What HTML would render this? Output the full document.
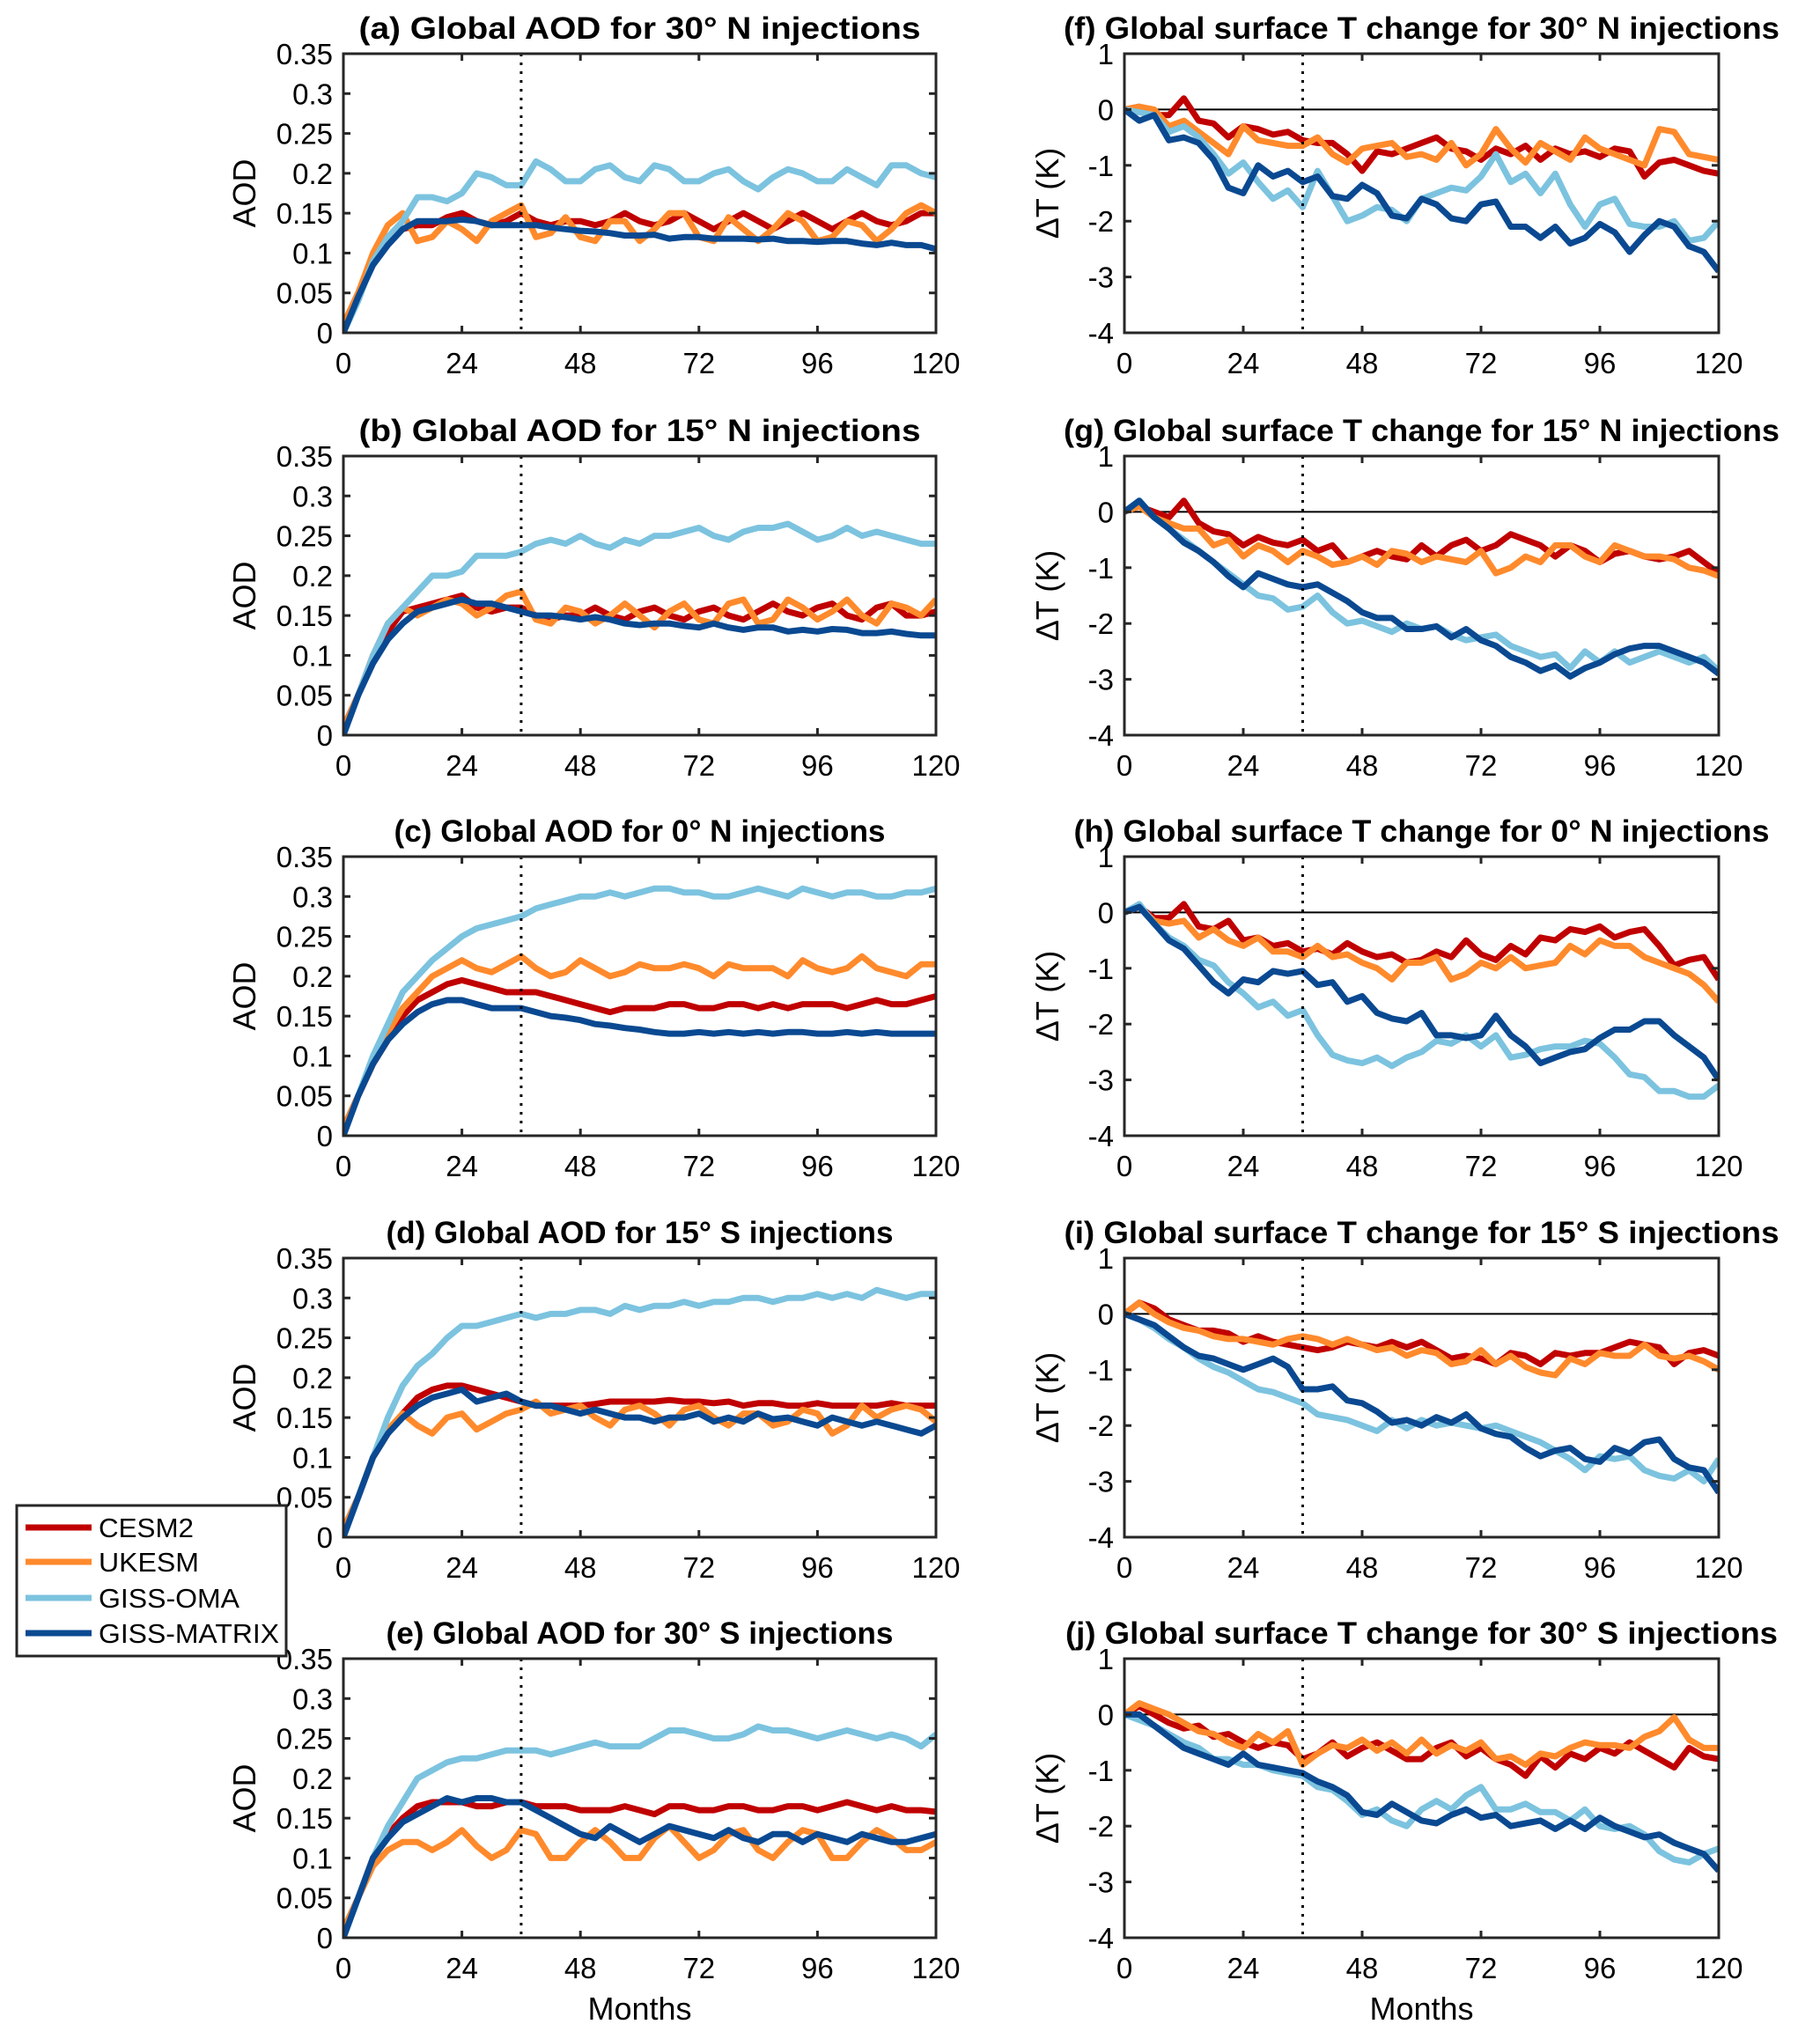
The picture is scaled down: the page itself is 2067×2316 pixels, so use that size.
<!DOCTYPE html>
<html><head><meta charset="utf-8"><style>
html,body{margin:0;padding:0;background:#fff}
svg{display:block}
text{font-family:"Liberation Sans",sans-serif;fill:#000}
</style></head><body>
<svg id="fig" width="2067" height="2316" viewBox="0 0 2067 2316" xmlns="http://www.w3.org/2000/svg"></svg>
<script>
// months sampled every 3 months: 0..120
const sampleStep = 3;
const seriesNames = ["CESM2","UKESM","GISS-OMA","GISS-MATRIX"];
const aodTicks = [0,0.05,0.1,0.15,0.2,0.25,0.3,0.35];
const aodTickLabels = ["0","0.05","0.1","0.15","0.2","0.25","0.3","0.35"];
const tTicks = [-4,-3,-2,-1,0,1];
const tTickLabels = ["-4","-3","-2","-1","0","1"];
const monthTicks = [0,24,48,72,96,120];
const monthTickLabels = ["0","24","48","72","96","120"];
const spinupMonth = 36;

// (a) AOD 30N
const aCesm=[0.01,0.05,0.09,0.12,0.13,0.135,0.135,0.145,0.15,0.14, 0.135,0.14,0.15,0.14,0.135,0.14,0.14,0.135,0.14,0.15, 0.14,0.135,0.14,0.15,0.14,0.13,0.14,0.15,0.14,0.13, 0.14,0.15,0.14,0.13,0.14,0.15,0.14,0.135,0.14,0.15, 0.15];
const aUk=[0.01,0.05,0.1,0.135,0.15,0.115,0.12,0.14,0.13,0.115, 0.14,0.15,0.16,0.12,0.125,0.145,0.12,0.115,0.14,0.14, 0.115,0.13,0.15,0.15,0.12,0.115,0.145,0.13,0.115,0.13, 0.15,0.14,0.115,0.12,0.14,0.135,0.115,0.13,0.15,0.16, 0.15];
const aOma=[0.0,0.04,0.09,0.12,0.14,0.17,0.17,0.165,0.175,0.2, 0.195,0.185,0.185,0.215,0.205,0.19,0.19,0.205,0.21,0.195, 0.19,0.21,0.205,0.19,0.19,0.2,0.205,0.19,0.18,0.195, 0.205,0.2,0.19,0.19,0.205,0.195,0.185,0.21,0.21,0.2, 0.195];
const aMat=[0.0,0.045,0.085,0.11,0.13,0.14,0.14,0.14,0.142,0.14, 0.135,0.135,0.135,0.135,0.132,0.13,0.128,0.127,0.125,0.122, 0.122,0.123,0.118,0.12,0.12,0.118,0.118,0.118,0.117,0.118, 0.115,0.115,0.114,0.115,0.115,0.112,0.11,0.113,0.11,0.11, 0.105];
// (f) dT 30N
const fCesm=[0,0.05,-0.1,-0.1,0.2,-0.2,-0.25,-0.5,-0.3,-0.35, -0.45,-0.4,-0.55,-0.6,-0.6,-0.8,-1.1,-0.75,-0.8,-0.7, -0.6,-0.5,-0.7,-0.75,-0.9,-0.7,-0.8,-0.65,-0.9,-0.7, -0.8,-0.75,-0.85,-0.7,-0.75,-1.2,-0.95,-0.9,-1.0,-1.1, -1.15];
const fUk=[0,0.05,0,-0.3,-0.2,-0.4,-0.6,-0.8,-0.3,-0.55, -0.6,-0.65,-0.65,-0.5,-0.8,-0.95,-0.7,-0.65,-0.6,-0.85, -0.8,-0.9,-0.6,-1.0,-0.8,-0.35,-0.7,-0.95,-0.6,-0.75, -0.9,-0.5,-0.7,-0.8,-0.9,-1.0,-0.35,-0.4,-0.8,-0.85, -0.9];
const fOma=[0,-0.05,-0.1,-0.4,-0.3,-0.5,-0.8,-1.15,-0.95,-1.3, -1.6,-1.45,-1.75,-1.1,-1.55,-2.0,-1.9,-1.75,-1.8,-2.0, -1.6,-1.5,-1.4,-1.45,-1.2,-0.8,-1.3,-1.15,-1.5,-1.15, -1.7,-2.1,-1.7,-1.6,-2.05,-2.1,-2.1,-2.0,-2.35,-2.3, -2.0];
const fMat=[0,-0.2,-0.1,-0.55,-0.5,-0.6,-0.9,-1.4,-1.5,-1.0, -1.2,-1.1,-1.3,-1.2,-1.55,-1.6,-1.35,-1.5,-1.9,-1.95, -1.6,-1.7,-1.95,-2.0,-1.7,-1.65,-2.1,-2.1,-2.3,-2.1, -2.4,-2.3,-2.05,-2.2,-2.55,-2.25,-2.0,-2.1,-2.45,-2.55, -2.9];
// (b) AOD 15N
const bCesm=[.01,.05,.1,.13,.155,.16,.165,.17,.175,.16, .155,.16,.16,.15,.145,.15,.15,.16,.15,.145, .155,.16,.15,.145,.155,.16,.15,.145,.155,.165, .155,.15,.16,.165,.15,.145,.16,.165,.15,.15, .155];
const bUk=[.01,.05,.1,.14,.16,.15,.16,.17,.165,.15, .16,.175,.18,.145,.14,.16,.155,.14,.15,.165, .15,.135,.155,.165,.145,.14,.165,.17,.14,.145, .17,.16,.145,.155,.17,.15,.14,.165,.16,.15, .17];
const bOma=[.0,.05,.1,.14,.16,.18,.2,.2,.205,.225, .225,.225,.23,.24,.245,.24,.25,.24,.235,.245, .24,.25,.25,.255,.26,.25,.245,.255,.26,.26, .265,.255,.245,.25,.26,.25,.255,.25,.245,.24, .24];
const bMat=[.0,.05,.09,.12,.14,.155,.16,.165,.17,.165, .165,.16,.155,.15,.15,.148,.145,.148,.145,.14, .138,.14,.14,.137,.135,.14,.135,.132,.135,.135, .13,.132,.13,.133,.132,.128,.128,.13,.127,.125, .125];
// (g) dT 15N
const gCesm=[0,0.1,0,-0.1,0.2,-0.2,-0.35,-0.4,-0.6,-0.45, -0.55,-0.6,-0.5,-0.7,-0.6,-0.9,-0.8,-0.7,-0.8,-0.85, -0.6,-0.8,-0.6,-0.5,-0.7,-0.6,-0.4,-0.5,-0.6,-0.8, -0.6,-0.7,-0.9,-0.75,-0.7,-0.8,-0.85,-0.8,-0.7,-0.9, -1.1];
const gUk=[0,0.1,-0.1,-0.2,-0.3,-0.3,-0.6,-0.5,-0.8,-0.6, -0.7,-0.9,-0.7,-0.8,-0.95,-0.9,-0.8,-0.95,-0.7,-0.75, -0.9,-0.8,-0.85,-0.9,-0.7,-1.1,-1.0,-0.8,-0.9,-0.6, -0.6,-0.8,-0.9,-0.6,-0.7,-0.8,-0.8,-0.85,-1.0,-1.05, -1.15];
const gOma=[0,0.2,-0.1,-0.3,-0.5,-0.7,-0.9,-1.1,-1.3,-1.5, -1.55,-1.75,-1.7,-1.5,-1.8,-2.0,-1.95,-2.05,-2.15,-2.0, -2.1,-2.05,-2.2,-2.3,-2.25,-2.2,-2.4,-2.5,-2.6,-2.55, -2.8,-2.5,-2.7,-2.5,-2.7,-2.6,-2.5,-2.6,-2.7,-2.6, -2.85];
const gMat=[0,0.2,-0.1,-0.3,-0.55,-0.7,-0.9,-1.15,-1.35,-1.1, -1.2,-1.3,-1.35,-1.3,-1.45,-1.6,-1.8,-1.9,-1.9,-2.1, -2.1,-2.05,-2.25,-2.1,-2.3,-2.4,-2.6,-2.7,-2.85,-2.75, -2.95,-2.8,-2.7,-2.55,-2.45,-2.4,-2.4,-2.5,-2.6,-2.7, -2.9];
// (c) AOD 0N
const cCesm=[.01,.05,.09,.12,.15,.17,.18,.19,.195,.19, .185,.18,.18,.18,.175,.17,.165,.16,.155,.16, .16,.16,.165,.165,.16,.16,.165,.165,.16,.165, .16,.165,.165,.165,.16,.165,.17,.165,.165,.17, .175];
const cUk=[.01,.05,.09,.13,.16,.18,.2,.21,.22,.21, .205,.215,.225,.21,.2,.205,.22,.21,.2,.205, .215,.21,.21,.215,.21,.2,.215,.21,.21,.21, .2,.22,.21,.205,.21,.225,.21,.205,.2,.215, .215];
const cOma=[.0,.05,.1,.14,.18,.2,.22,.235,.25,.26, .265,.27,.275,.285,.29,.295,.3,.3,.305,.3, .305,.31,.31,.305,.305,.3,.3,.305,.31,.305, .3,.31,.305,.3,.305,.305,.3,.3,.305,.305, .31];
const cMat=[.0,.05,.09,.12,.14,.155,.165,.17,.17,.165, .16,.16,.16,.155,.15,.148,.145,.14,.138,.135, .133,.13,.128,.128,.13,.128,.13,.128,.13,.128, .13,.13,.128,.128,.13,.128,.13,.128,.128,.128, .128];
// (h) dT 0N
const hCesm=[0,0.1,-0.1,-0.1,0.15,-0.25,-0.3,-0.15,-0.5,-0.45, -0.6,-0.55,-0.7,-0.65,-0.75,-0.55,-0.7,-0.8,-0.75,-0.9, -0.85,-0.7,-0.8,-0.5,-0.75,-0.85,-0.6,-0.75,-0.45,-0.5, -0.3,-0.35,-0.25,-0.45,-0.35,-0.3,-0.6,-0.95,-0.85,-0.8, -1.2];
const hUk=[0,0.1,-0.15,-0.2,-0.15,-0.45,-0.3,-0.5,-0.6,-0.45, -0.7,-0.7,-0.8,-0.6,-0.8,-0.75,-0.9,-1.0,-1.2,-0.9, -0.9,-0.8,-1.2,-1.1,-0.9,-1.0,-0.8,-1.0,-0.95,-0.9, -0.6,-0.75,-0.5,-0.6,-0.6,-0.8,-0.9,-1.0,-1.1,-1.3, -1.6];
const hOma=[0,0.15,-0.2,-0.45,-0.6,-0.85,-0.95,-1.25,-1.45,-1.7, -1.6,-1.85,-1.75,-2.2,-2.55,-2.65,-2.7,-2.6,-2.75,-2.6, -2.5,-2.3,-2.35,-2.2,-2.4,-2.2,-2.6,-2.55,-2.45,-2.4, -2.4,-2.3,-2.35,-2.6,-2.9,-2.95,-3.2,-3.2,-3.3,-3.3, -3.1];
const hMat=[0,0.1,-0.2,-0.5,-0.65,-0.95,-1.25,-1.45,-1.2,-1.25, -1.05,-1.1,-1.05,-1.3,-1.25,-1.6,-1.5,-1.8,-1.9,-1.95, -1.8,-2.2,-2.2,-2.25,-2.2,-1.85,-2.2,-2.4,-2.7,-2.6, -2.5,-2.45,-2.25,-2.1,-2.1,-1.95,-1.95,-2.2,-2.4,-2.6, -3.0];
// (d) AOD 15S
const dCesm=[.01,.05,.1,.13,.155,.175,.185,.19,.19,.185, .18,.175,.17,.165,.165,.165,.165,.167,.17,.17, .17,.17,.172,.17,.17,.168,.17,.165,.168,.168, .165,.165,.168,.165,.165,.165,.165,.168,.165,.165, .165];
const dUk=[.01,.05,.1,.135,.155,.14,.13,.15,.155,.135, .145,.155,.16,.17,.155,.16,.165,.15,.14,.16, .165,.155,.14,.16,.165,.15,.14,.155,.155,.14, .145,.16,.155,.13,.14,.165,.15,.16,.165,.16, .145];
const dOma=[.0,.05,.1,.15,.19,.215,.23,.25,.265,.265, .27,.275,.28,.275,.28,.28,.285,.285,.28,.29, .285,.29,.29,.295,.29,.295,.295,.3,.3,.295, .3,.3,.305,.3,.305,.3,.31,.305,.3,.305, .305];
const dMat=[.0,.05,.1,.13,.15,.165,.175,.18,.185,.17, .175,.18,.17,.165,.165,.16,.155,.16,.155,.15, .15,.145,.15,.15,.155,.145,.15,.145,.155,.148, .15,.145,.14,.15,.145,.14,.145,.14,.135,.13, .14];
// (i) dT 15S
const iCesm=[0,0.2,0.1,-0.1,-0.2,-0.3,-0.3,-0.35,-0.5,-0.4, -0.5,-0.55,-0.6,-0.65,-0.6,-0.5,-0.55,-0.6,-0.5,-0.6, -0.5,-0.65,-0.8,-0.75,-0.8,-0.9,-0.7,-0.75,-0.9,-0.7, -0.75,-0.7,-0.7,-0.6,-0.5,-0.55,-0.6,-0.9,-0.7,-0.65, -0.75];
const iUk=[0,0.2,0,-0.15,-0.25,-0.3,-0.4,-0.45,-0.45,-0.5, -0.55,-0.45,-0.4,-0.45,-0.55,-0.45,-0.55,-0.65,-0.6,-0.75, -0.65,-0.7,-0.9,-0.85,-0.65,-0.9,-0.75,-0.95,-1.05,-1.1, -0.8,-0.9,-0.7,-0.75,-0.75,-0.55,-0.75,-0.8,-0.75,-0.85, -1.0];
const iOma=[0,-0.1,-0.25,-0.45,-0.6,-0.8,-0.95,-1.05,-1.2,-1.35, -1.4,-1.5,-1.6,-1.8,-1.85,-1.9,-2.0,-2.1,-1.9,-2.05, -1.9,-2.0,-1.95,-2.0,-2.05,-2.0,-2.1,-2.2,-2.3,-2.45, -2.6,-2.8,-2.55,-2.6,-2.55,-2.8,-2.9,-2.95,-2.8,-3.0, -2.6];
const iMat=[0,-0.1,-0.2,-0.4,-0.6,-0.75,-0.8,-0.9,-1.0,-0.9, -0.8,-0.95,-1.35,-1.35,-1.3,-1.55,-1.6,-1.75,-1.95,-1.9, -2.0,-1.85,-1.95,-1.8,-2.05,-2.15,-2.2,-2.4,-2.55,-2.45, -2.4,-2.6,-2.65,-2.4,-2.5,-2.3,-2.25,-2.6,-2.75,-2.8, -3.2];
// (e) AOD 30S
const eCesm=[.01,.05,.1,.13,.15,.165,.17,.17,.17,.165, .165,.17,.17,.165,.165,.165,.16,.16,.16,.165, .16,.155,.165,.165,.16,.16,.165,.165,.16,.16, .165,.165,.16,.165,.17,.165,.16,.165,.16,.16, .158];
const eUk=[.01,.05,.09,.11,.12,.12,.11,.12,.135,.115, .1,.11,.135,.13,.1,.1,.12,.135,.12,.1, .1,.125,.14,.12,.1,.11,.13,.135,.11,.1, .12,.135,.13,.1,.1,.12,.135,.125,.11,.11, .12];
const eOma=[.0,.05,.1,.14,.17,.2,.21,.22,.225,.225, .23,.235,.235,.235,.23,.235,.24,.245,.24,.24, .24,.25,.26,.26,.255,.25,.25,.255,.265,.26, .26,.255,.25,.255,.26,.255,.25,.255,.25,.24, .255];
const eMat=[.0,.05,.1,.125,.145,.155,.165,.175,.17,.175, .175,.17,.17,.16,.15,.14,.13,.125,.14,.13, .12,.13,.14,.135,.13,.125,.135,.125,.12,.13, .13,.12,.13,.125,.12,.13,.125,.12,.12,.125, .13];
// (j) dT 30S
const jCesm=[0,0.15,0,-0.15,-0.25,-0.2,-0.4,-0.35,-0.5,-0.6, -0.5,-0.55,-0.8,-0.7,-0.5,-0.75,-0.6,-0.5,-0.65,-0.8, -0.8,-0.6,-0.5,-0.75,-0.6,-0.8,-0.9,-1.1,-0.75,-0.95, -0.7,-0.8,-0.6,-0.7,-0.5,-0.65,-0.8,-0.95,-0.6,-0.75, -0.8];
const jUk=[0,0.2,0.1,0,-0.15,-0.3,-0.35,-0.5,-0.6,-0.35, -0.5,-0.3,-0.9,-0.7,-0.55,-0.6,-0.45,-0.65,-0.5,-0.7, -0.45,-0.7,-0.55,-0.65,-0.5,-0.8,-0.75,-0.9,-0.7,-0.75, -0.6,-0.5,-0.55,-0.55,-0.6,-0.4,-0.3,-0.05,-0.45,-0.6, -0.6];
const jOma=[0,-0.1,-0.2,-0.35,-0.5,-0.6,-0.8,-0.8,-0.9,-0.9, -1.0,-1.05,-1.1,-1.3,-1.35,-1.55,-1.8,-1.7,-1.9,-2.0, -1.7,-1.55,-1.7,-1.45,-1.3,-1.7,-1.7,-1.6,-1.75,-1.75, -1.9,-1.7,-2.0,-2.05,-2.0,-2.15,-2.45,-2.6,-2.65,-2.5, -2.4];
const jMat=[0,0,-0.2,-0.4,-0.6,-0.7,-0.8,-0.9,-0.7,-0.9, -0.95,-1.0,-1.05,-1.2,-1.3,-1.45,-1.75,-1.8,-1.6,-1.75, -1.9,-1.95,-1.8,-1.7,-1.85,-1.8,-2.0,-1.95,-1.9,-2.05, -1.9,-2.05,-1.85,-2.0,-2.1,-2.2,-2.15,-2.3,-2.4,-2.5, -2.8];

const colors=["#c00000","#ff8a2c","#7cc3df","#0a4991"];
const NS="http://www.w3.org/2000/svg";
const svg=document.getElementById('fig');
function mk(tag,attrs,parent){const e=document.createElementNS(NS,tag);for(const k in attrs)e.setAttribute(k,attrs[k]);(parent||svg).appendChild(e);return e;}

const rowTops=[61,518,973,1429,1884];
const axH=317;
const leftX=[390,1063], rightX=[1277,1952];
const panels=[
 {id:'a',col:0,row:0,title:"(a) Global AOD for 30° N injections",tw:638,s:[aCesm,aUk,aOma,aMat]},
 {id:'b',col:0,row:1,title:"(b) Global AOD for 15° N injections",tw:638,s:[bCesm,bUk,bOma,bMat]},
 {id:'c',col:0,row:2,title:"(c) Global AOD for 0° N injections",tw:558,s:[cCesm,cUk,cOma,cMat]},
 {id:'d',col:0,row:3,title:"(d) Global AOD for 15° S injections",tw:576,s:[dCesm,dUk,dOma,dMat]},
 {id:'e',col:0,row:4,title:"(e) Global AOD for 30° S injections",tw:576,s:[eCesm,eUk,eOma,eMat]},
 {id:'f',col:1,row:0,title:"(f) Global surface T change for 30° N injections",tw:813,s:[fCesm,fUk,fOma,fMat]},
 {id:'g',col:1,row:1,title:"(g) Global surface T change for 15° N injections",tw:813,s:[gCesm,gUk,gOma,gMat]},
 {id:'h',col:1,row:2,title:"(h) Global surface T change for 0° N injections",tw:790,s:[hCesm,hUk,hOma,hMat]},
 {id:'i',col:1,row:3,title:"(i) Global surface T change for 15° S injections",tw:812,s:[iCesm,iUk,iOma,iMat]},
 {id:'j',col:1,row:4,title:"(j) Global surface T change for 30° S injections",tw:809,s:[jCesm,jUk,jOma,jMat]},
];

panels.forEach(p=>{
  const [x0,x1]=p.col===0?leftX:rightX;
  const y0=rowTops[p.row], y1=y0+axH;
  const isT=p.col===1;
  const ymin=isT?-4:0, ymax=isT?1:0.35;
  const sx=m=>x0+(m/120)*(x1-x0);
  const sy=v=>y1-(v-ymin)/(ymax-ymin)*(y1-y0);
  const g=mk('g',{});
  
  
  const t=mk('text',{x:(x0+x1)/2,y:y0-17,'text-anchor':'middle','font-size':35,'font-weight':'bold',textLength:p.tw,lengthAdjust:'spacingAndGlyphs'},g);
  t.textContent=p.title;
  
  
  const cp=mk('clipPath',{id:'clip'+p.id},g);
  mk('rect',{x:x0,y:y0,width:x1-x0,height:y1-y0},cp);
  if(isT){const z=mk('line',{x1:x0,x2:x1,y1:sy(0),y2:sy(0),stroke:'#000','stroke-width':2},g);
    }
  p.s.forEach((arr,k)=>{
    const pts=arr.map((v,i)=>sx(i*sampleStep).toFixed(1)+','+sy(v).toFixed(1)).join(' ');
    const pl=mk('polyline',{points:pts,fill:'none',stroke:colors[k],'stroke-width':7,'stroke-linejoin':'round','clip-path':'url(#clip'+p.id+')'},g);
    
    
  });
  const dl=mk('line',{x1:sx(spinupMonth),x2:sx(spinupMonth),y1:y0,y2:y1,stroke:'#000','stroke-width':3,'stroke-dasharray':'3 7'},g);
  
  
  const bx=mk('rect',{x:x0,y:y0,width:x1-x0,height:y1-y0,fill:'none',stroke:'#262626','stroke-width':3},g);
  
  
  monthTicks.forEach((m,i)=>{
    const X=sx(m);
    mk('line',{x1:X,x2:X,y1:y1,y2:y1-8,stroke:'#262626','stroke-width':3},g);
    mk('line',{x1:X,x2:X,y1:y0,y2:y0+8,stroke:'#262626','stroke-width':3},g);
    const tl=mk('text',{x:X,y:y1+46,'text-anchor':'middle','font-size':33},g);
    tl.textContent=monthTickLabels[i];
    
    
  });
  const yt=isT?tTicks:aodTicks, ytl=isT?tTickLabels:aodTickLabels;
  yt.forEach((v,i)=>{
    const Y=sy(v);
    mk('line',{x1:x0,x2:x0+8,y1:Y,y2:Y,stroke:'#262626','stroke-width':3},g);
    mk('line',{x1:x1,x2:x1-8,y1:Y,y2:Y,stroke:'#262626','stroke-width':3},g);
    const tl=mk('text',{x:x0-12,y:Y+12,'text-anchor':'end','font-size':33},g);
    tl.textContent=ytl[i];
    
    
  });
  const yl=mk('text',{transform:`translate(${isT?x0-75:x0-100},${(y0+y1)/2}) rotate(-90)`,'text-anchor':'middle','font-size':36},g);
  yl.textContent=isT?"ΔT (K)":"AOD";
  
  
  if(p.row===4){
    const xl=mk('text',{x:(x0+x1)/2,y:2294,'text-anchor':'middle','font-size':36},g);
    xl.textContent="Months";
    
    
  }
});

const lg=mk('g',{});


const lb=mk('rect',{x:19,y:1710,width:306,height:171,fill:'#fff',stroke:'#262626','stroke-width':3},lg);


const legYs=[1735,1774,1815,1855];
const legW=[108,114,160,205];
seriesNames.forEach((n,k)=>{
  const ln=mk('line',{x1:29,x2:104,y1:legYs[k],y2:legYs[k],stroke:colors[k],'stroke-width':7},lg);
  
  
  const tx=mk('text',{x:112,y:legYs[k]+11,'font-size':31,textLength:legW[k],lengthAdjust:'spacingAndGlyphs'},lg);
  tx.textContent=n;
  
  
});
</script>
</body></html>
